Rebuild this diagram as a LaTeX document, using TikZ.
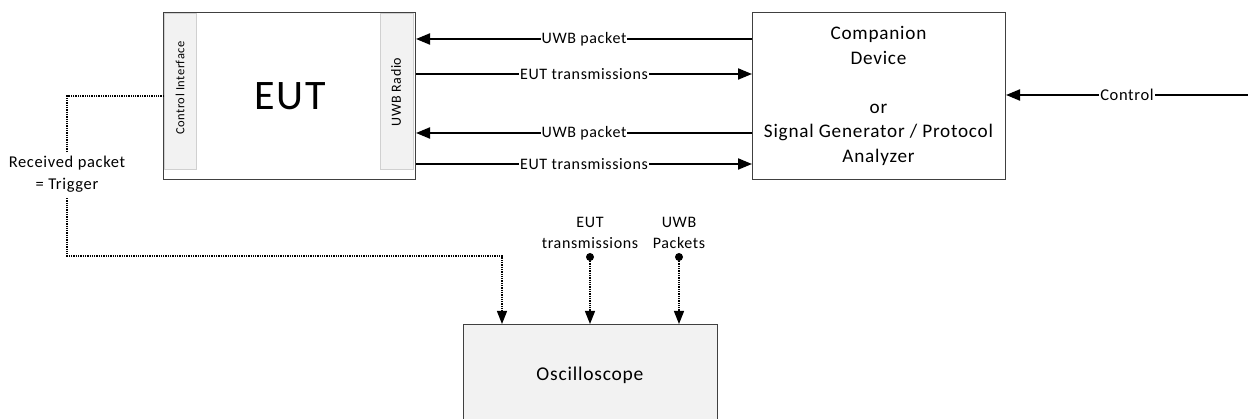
\documentclass[tikz,border=0pt]{standalone}
\usepackage{fontspec}
\setmainfont{Carlito}[LetterSpace=4]
\usetikzlibrary{arrows.meta,calc}
\definecolor{boxgray}{HTML}{F2F2F2}
\definecolor{stripline}{HTML}{D0D0D0}
\definecolor{edge}{HTML}{404040}
\tikzset{
  box/.style={draw=edge, line width=1pt, inner sep=0pt},
  strip/.style={draw=stripline, fill=boxgray, line width=0.8pt, inner sep=0pt},
  sig/.style={line width=2pt, -{Triangle[length=14pt,width=11pt]}},
  trig/.style={line width=1.3pt, densely dotted, -{Triangle[length=13pt,width=10pt]}},
  lbl/.style={fill=white, inner sep=1pt, font=\fontsize{16}{18}\selectfont},
  dotp/.style={circle, fill=black, inner sep=0pt, minimum size=8pt},
}
\begin{document}
\begin{tikzpicture}[x=1pt,y=-1pt]
\useasboundingbox (0,0) rectangle (1248,419);
% EUT
\node[box, minimum width=252pt, minimum height=167pt, anchor=north west] (eut) at (163,12) {};
\node[strip, minimum width=32pt, minimum height=156pt, anchor=north west] (ci) at (164,13) {};
\node[strip, minimum width=33pt, minimum height=156pt, anchor=north west] (radio) at (380,13) {};
\node[rotate=90, font=\fontsize{12.5}{15}\selectfont] at (180,88) {Control Interface};
\node[rotate=90, font=\fontsize{14}{16}\selectfont] at (396,92) {UWB Radio};
\node[font=\fontsize{42}{44}\selectfont] at (290,96) {EUT};
% Companion
\node[box, minimum width=253pt, minimum height=167pt, anchor=north west] (comp) at (752,12) {};
\node[align=center, font=\fontsize{19.2}{24.5}\selectfont] at (878.5,96) {Companion\\Device\\[24.5pt]or\\Signal Generator / Protocol\\Analyzer};
% Oscilloscope
\node[box, fill=boxgray, minimum width=254pt, minimum height=110pt, anchor=north west] (osc) at (463,324) {};
\node[font=\fontsize{19.5}{22}\selectfont] at (590,375) {Oscilloscope};
% Arrows between EUT and companion
\draw[sig] (comp.west |- 0,39) -- node[lbl]{UWB packet} (eut.east |- 0,39);
\draw[sig] (eut.east |- 0,74) -- node[lbl]{EUT transmissions} (comp.west |- 0,74);
\draw[sig] (comp.west |- 0,133) -- node[lbl]{UWB packet} (eut.east |- 0,133);
\draw[sig] (eut.east |- 0,164) -- node[lbl]{EUT transmissions} (comp.west |- 0,164);
% Control
\coordinate (ctl) at (1248,95);
\draw[sig] (ctl) -- node[lbl, font=\fontsize{16.5}{18}\selectfont]{Control} (comp.east |- ctl);
% Trigger
\coordinate (t1) at (67,96);
\coordinate (t2) at (67,256);
\coordinate (t3) at (502,256);
\draw[line width=1.3pt, densely dotted] (ci.west |- t1) -- (t1) -- (67,152);
\node[align=center, font=\fontsize{16.5}{22}\selectfont] (rp) at (67,174) {Received packet\\= Trigger};
\draw[trig] (67,198) -- (t2) -- (t3) -- (osc.north -| t3);
% Probe points
\node[dotp] (p1) at (590,257) {};
\node[dotp] (p2) at (679,257) {};
\draw[trig] (p1) -- (osc.north -| p1);
\draw[trig] (p2) -- (osc.north -| p2);
\node[align=center, font=\fontsize{16}{21}\selectfont, anchor=south] at (590,252) {EUT\\transmissions};
\node[align=center, font=\fontsize{16}{21}\selectfont, anchor=south] at (679,252) {UWB\\Packets};
\end{tikzpicture}
\end{document}
